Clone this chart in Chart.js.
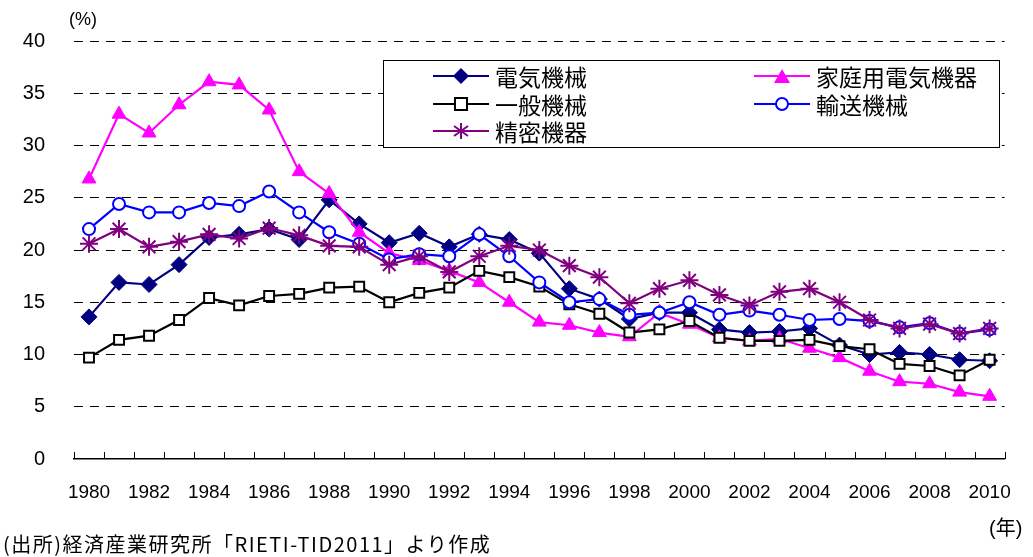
<!DOCTYPE html>
<html lang="ja">
<head>
<meta charset="UTF-8">
<title>輸出シェアの推移</title>
<style>
body { margin: 0; padding: 0; background: #fff; font-family: 'Liberation Sans', Arial, sans-serif; }
.wrap { position: relative; width: 1033px; height: 557px; }
#chart { position: absolute; left: 0; top: 0; }
.unit-y { position: absolute; left: 69px; top: 9px; font-size: 18px; color: #000; }
.unit-x { position: absolute; left: 989px; top: 512px; font-size: 20px; color: #000; font-family: 'Liberation Sans', 'Noto Sans CJK JP', sans-serif; }
.source { position: absolute; left: 3px; top: 532px; font-size: 20px; letter-spacing: 1.5px; color: #000; font-family: 'Noto Sans CJK JP', sans-serif; line-height: 24px; }
.legend { position: absolute; left: 383px; top: 60px; width: 615px; height: 86px; border: 1.5px solid #000; background: #fff; }
.item { position: absolute; display: flex; align-items: center; font-family: 'Noto Sans CJK JP', sans-serif; font-size: 23px; line-height: 28px; color: #000; }
.item svg { margin-right: 6px; }
</style>
<script src="https://cdn.jsdelivr.net/npm/chart.js"></script>
</head>
<body>
<div class="wrap">
    <canvas id="chart" width="1033" height="557"></canvas>
    <div class="unit-y">(%)</div>
    <div class="unit-x">(年)</div>
    <div class="source">(出所)経済産業研究所「RIETI-TID2011」より作成</div>
    <div class="legend">
        <div class="item" style="left:49px; top:1px;">
            <svg width="56" height="18"><line x1="0" y1="9" x2="56" y2="9" stroke="#000080" stroke-width="2"/><polygon points="28,1 36,9 28,17 20,9" fill="#000080"/></svg>電気機械</div>
        <div class="item" style="left:370px; top:1px;">
            <svg width="56" height="18"><line x1="0" y1="9" x2="56" y2="9" stroke="#ff00ff" stroke-width="2"/><polygon points="28,2 36,16 20,16" fill="#ff00ff"/></svg>家庭用電気機器</div>
        <div class="item" style="left:49px; top:29px;">
            <svg width="56" height="18"><line x1="0" y1="9" x2="56" y2="9" stroke="#000" stroke-width="2"/><rect x="22" y="3" width="12" height="12" fill="#fff" stroke="#000" stroke-width="2"/></svg>一般機械</div>
        <div class="item" style="left:370px; top:29px;">
            <svg width="56" height="18"><line x1="0" y1="9" x2="56" y2="9" stroke="#0000ff" stroke-width="2"/><circle cx="28" cy="9" r="6" fill="#fff" stroke="#0000ff" stroke-width="2"/></svg>輸送機械</div>
        <div class="item" style="left:49px; top:56px;">
            <svg width="56" height="18"><line x1="0" y1="9" x2="56" y2="9" stroke="#800080" stroke-width="2"/><g stroke="#800080" stroke-width="2"><line x1="28" y1="1" x2="28" y2="17"/><line x1="21" y1="4" x2="35" y2="14"/><line x1="21" y1="14" x2="35" y2="4"/></g></svg>精密機器</div>
    </div>
</div>
<script>
const years = ["1980","1981","1982","1983","1984","1985","1986","1987","1988","1989",
    "1990","1991","1992","1993","1994","1995","1996","1997","1998","1999",
    "2000","2001","2002","2003","2004","2005","2006","2007","2008","2009","2010"];

// 電気機械
const denki = [13.6, 16.9, 16.7, 18.6, 21.2, 21.5, 22.0, 21.0, 24.8, 22.5,
    20.7, 21.6, 20.3, 21.5, 21.0, 19.7, 16.3, 15.3, 13.4, 14.0,
    14.0, 12.4, 12.1, 12.2, 12.5, 10.9, 10.0, 10.2, 10.0, 9.5, 9.4];
// 家庭用電気機器
const kateiyo = [26.8, 33.0, 31.2, 33.9, 36.1, 35.8, 33.4, 27.5, 25.4, 21.7,
    19.7, 19.0, 18.0, 16.9, 15.0, 13.1, 12.8, 12.1, 11.7, 14.0,
    12.9, 11.6, 11.3, 11.5, 10.6, 9.7, 8.4, 7.4, 7.2, 6.4, 6.0];
// 一般機械
const ippan = [9.7, 11.4, 11.8, 13.3, 15.4, 14.7, 15.6, 15.8, 16.4, 16.5,
    15.0, 15.9, 16.4, 18.0, 17.4, 16.5, 14.8, 13.9, 12.1, 12.4,
    13.2, 11.6, 11.3, 11.3, 11.4, 10.8, 10.5, 9.1, 8.9, 8.0, 9.5];
// 輸送機械
const yuso = [22.0, 24.4, 23.6, 23.6, 24.5, 24.2, 25.6, 23.6, 21.7, 20.6,
    19.1, 19.6, 19.4, 21.5, 19.4, 16.9, 15.0, 15.3, 13.8, 14.0,
    15.0, 13.8, 14.2, 13.8, 13.3, 13.4, 13.2, 12.6, 13.0, 12.0, 12.4];
// 精密機器
const seimitsu = [20.6, 22.0, 20.3, 20.8, 21.5, 21.1, 22.1, 21.4, 20.4, 20.3,
    18.6, 19.4, 17.9, 19.4, 20.4, 20.0, 18.5, 17.4, 14.9, 16.3,
    17.1, 15.7, 14.7, 16.0, 16.3, 15.0, 13.3, 12.5, 12.9, 12.0, 12.5];

const yTicks = [0, 5, 10, 15, 20, 25, 30, 35, 40];

// small tick marks sitting on top of the x axis, between the years
const xTickMarks = {
    id: "xTickMarks",
    afterDraw(chart) {
        const ctx = chart.ctx;
        const x = chart.scales.x;
        const bottom = chart.chartArea.bottom;
        const step = x.getPixelForValue(1) - x.getPixelForValue(0);
        ctx.save();
        ctx.strokeStyle = "#000";
        ctx.lineWidth = 1;
        for (let i = 0; i <= years.length; i++) {
            const px = Math.round(x.getPixelForValue(0) - step / 2 + i * step) + 0.5;
            ctx.beginPath();
            ctx.moveTo(px, bottom);
            ctx.lineTo(px, bottom - 7);
            ctx.stroke();
        }
        ctx.restore();
    }
};

new Chart(document.getElementById("chart"), {
    type: "line",
    data: {
        labels: years,
        datasets: [
            { label: "電気機械", data: denki, borderColor: "#000080", backgroundColor: "#000080",
              pointStyle: "rectRot", pointRadius: 8, pointBorderWidth: 1, borderWidth: 2.2, order: 5 },
            { label: "家庭用電気機器", data: kateiyo, borderColor: "#ff00ff", backgroundColor: "#ff00ff",
              pointStyle: "triangle", pointRadius: 8, pointBorderWidth: 1, borderWidth: 2.2, order: 4 },
            { label: "一般機械", data: ippan, borderColor: "#000000", backgroundColor: "#ffffff",
              pointStyle: "rect", pointRadius: 7, pointBorderWidth: 2, borderWidth: 2.2, order: 3 },
            { label: "輸送機械", data: yuso, borderColor: "#0000ff", backgroundColor: "#ffffff",
              pointStyle: "circle", pointRadius: 6, pointBorderWidth: 2, borderWidth: 2.2, order: 2 },
            { label: "精密機器", data: seimitsu, borderColor: "#800080", backgroundColor: "#800080",
              pointStyle: "star", pointRadius: 9, pointBorderWidth: 2, borderWidth: 2.2, order: 1 }
        ]
    },
    options: {
        responsive: false,
        animation: false,
        layout: { padding: { top: 40, right: 15, left: 0, bottom: 0 } },
        plugins: { legend: { display: false }, tooltip: { enabled: false } },
        elements: { line: { tension: 0 } },
        scales: {
            x: {
                offset: true,
                grid: { display: false, drawTicks: false },
                border: { display: true, color: "#000", width: 1.5 },
                ticks: {
                    autoSkip: false, maxRotation: 0, padding: 22, color: "#000",
                    font: { family: "'Liberation Sans', Arial, sans-serif", size: 19 },
                    callback: (v, i) => (i % 2 === 0 ? years[i] : "")
                },
                afterFit: (s) => { s.height = 98; }
            },
            y: {
                min: 0, max: 40,
                afterBuildTicks: (s) => { s.ticks = yTicks.map(v => ({ value: v })); },
                grid: {
                    drawTicks: false,
                    color: (c) => (c.tick && c.tick.value === 0 ? "rgba(0,0,0,0)" : "#000"),
                    lineWidth: 1
                },
                border: { display: false, dash: [9, 7] },
                ticks: {
                    padding: 29, color: "#000",
                    font: { family: "'Liberation Sans', Arial, sans-serif", size: 20 }
                },
                afterFit: (s) => { s.width = 74; }
            }
        }
    },
    plugins: [xTickMarks]
});
</script>
</body>
</html>
